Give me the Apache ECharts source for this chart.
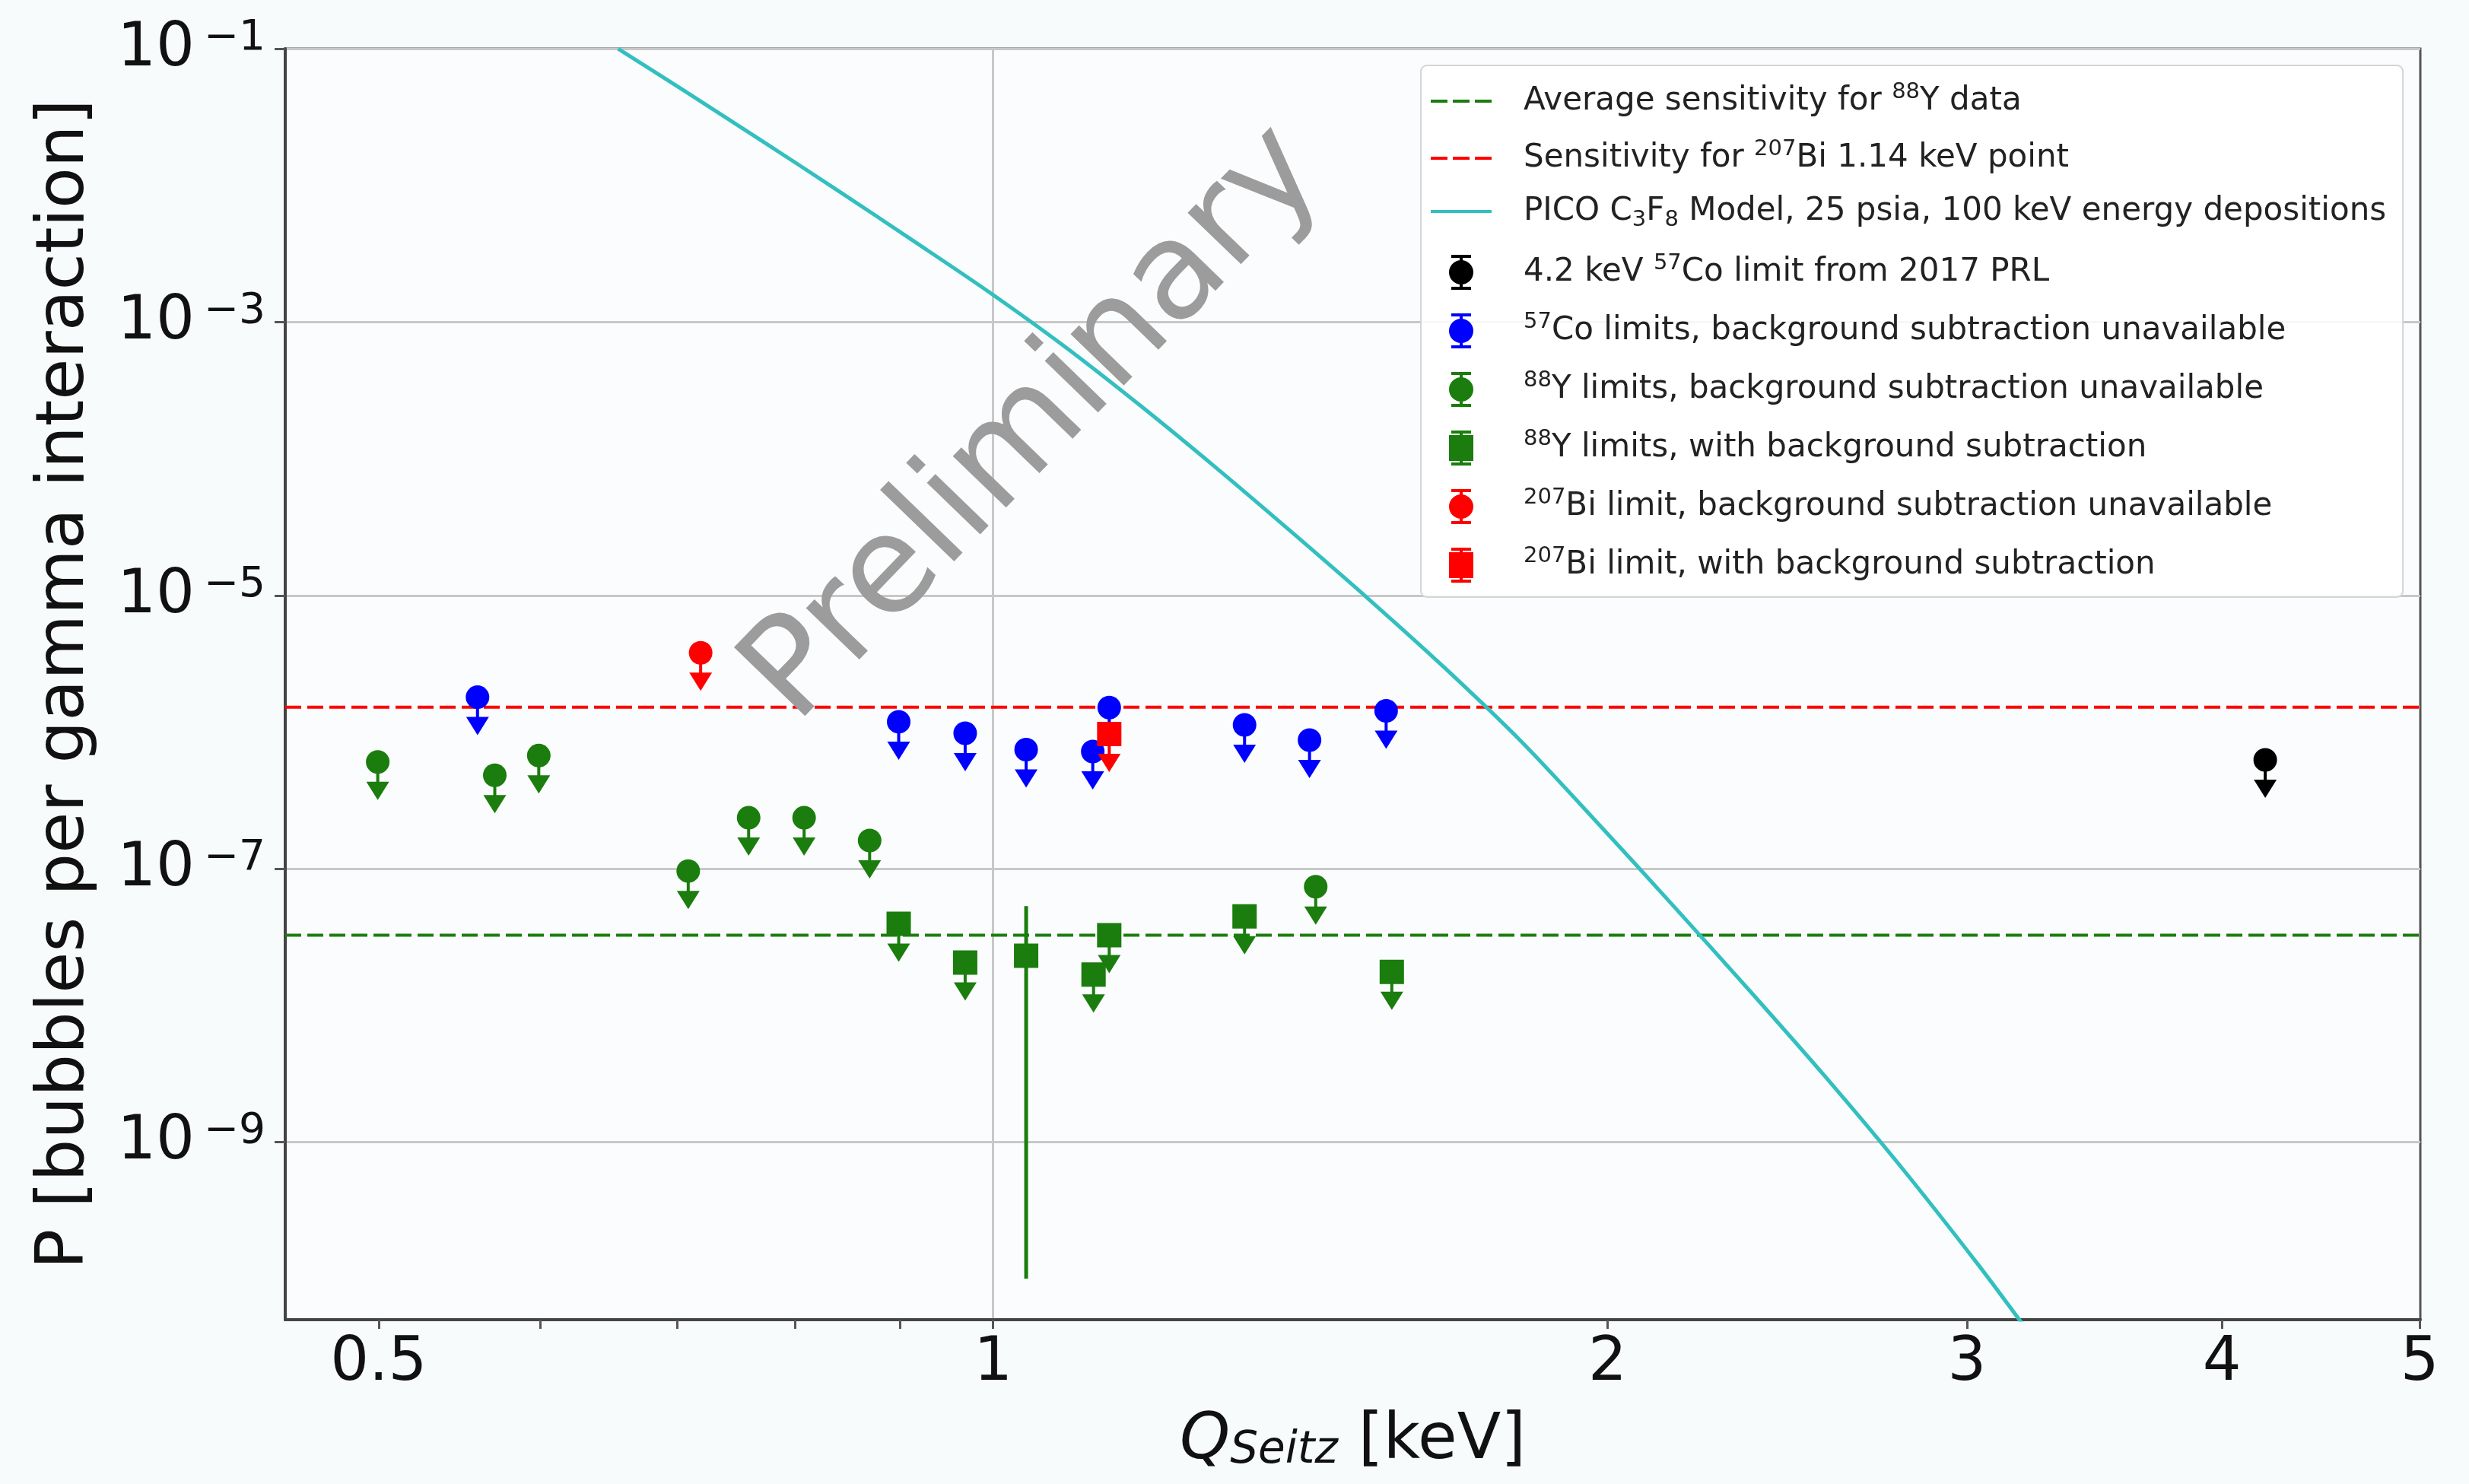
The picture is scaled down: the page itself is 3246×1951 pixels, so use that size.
<!DOCTYPE html>
<html>
<head>
<meta charset="utf-8">
<script src="https://cdn.jsdelivr.net/npm/echarts@6/dist/echarts.min.js"></script>
<style>
html,body{margin:0;padding:0;background:#f8fbfc;}
#chart{width:3246px;height:1951px;}
</style>
</head>
<body>
<div id="chart"></div>
<script>
// ---------------- data ----------------
const xTickValues = [0.5, 0.6, 0.7, 0.8, 0.9, 1, 2, 3, 4, 5];
const xLabelValues = [0.5, 1, 2, 3, 4, 5];
const xGridValues = [1];
const yLabelValues = [1e-9, 1e-7, 1e-5, 1e-3, 1e-1];

// PICO C3F8 model curve
const picoQ = [0.6551, 0.7059, 0.7691, 0.8381, 0.9131, 0.9949, 1.0840, 1.1811, 1.2869, 1.4021, 1.5278, 1.6646, 1.8137, 1.9762, 2.1532, 2.3461, 2.5563, 2.7852, 3.0347, 3.1950];
const picoP = [1.0e-1, 4.926e-2, 2.156e-2, 9.319e-3, 3.971e-3, 1.670e-3, 6.633e-4, 2.439e-4, 8.519e-5, 2.863e-5, 9.379e-6, 2.945e-6, 8.595e-7, 2.190e-7, 5.389e-8, 1.297e-8, 3.021e-9, 6.566e-10, 1.296e-10, 4.63e-11];

// horizontal sensitivity lines
const sensQRange = [0.45, 5.003];
const y88AvgSens = 3.26e-8;
const bi207Sens = 1.52e-6;

// black: 2017 PRL
const prlQ = [4.20];
const prlP = [6.26e-7];

// blue: 57Co limits
const co57Q = [0.559, 0.899, 0.969, 1.038, 1.119, 1.140, 1.328, 1.429, 1.558];
const co57P = [1.80e-6, 1.19e-6, 9.8e-7, 7.45e-7, 7.21e-7, 1.51e-6, 1.13e-6, 8.73e-7, 1.43e-6];

// green circles: 88Y, no background subtraction
const y88Q = [0.4995, 0.570, 0.599, 0.709, 0.759, 0.808, 0.870, 1.439];
const y88P = [6.05e-7, 4.83e-7, 6.73e-7, 9.62e-8, 2.36e-7, 2.36e-7, 1.61e-7, 7.39e-8];

// green squares: 88Y with background subtraction
const y88bQ = [0.899, 0.969, 1.038, 1.120, 1.140, 1.328, 1.568];
const y88bP = [3.96e-8, 2.06e-8, 2.31e-8, 1.68e-8, 3.26e-8, 4.48e-8, 1.76e-8];
const y88bIsLimit = [1, 1, 0, 1, 1, 1, 1];
const y88bErrLow = [null, null, 1.0e-10, null, null, null, null];
const y88bErrHigh = [null, null, 5.33e-8, null, null, null, null];

// red: 207Bi
const bi207Q = [0.719];
const bi207P = [3.80e-6];
const bi207bQ = [1.140];
const bi207bP = [9.69e-7];

// ---------------- names ----------------
const N = {
  avg: 'Average sensitivity for 88Y data',
  bis: 'Sensitivity for 207Bi 1.14 keV point',
  pico: 'PICO C3F8 Model, 25 psia, 100 keV energy depositions',
  prl: '4.2 keV 57Co limit from 2017 PRL',
  co: '57Co limits, background subtraction unavailable',
  y: '88Y limits, background subtraction unavailable',
  yb: '88Y limits, with background subtraction',
  bi: '207Bi limit, background subtraction unavailable',
  bib: '207Bi limit, with background subtraction'
};
const legendRich = {};
legendRich[N.avg] = '{t|Average sensitivity for }{sup|88}{t|Y data}';
legendRich[N.bis] = '{t|Sensitivity for }{sup|207}{t|Bi 1.14 keV point}';
legendRich[N.pico] = '{t|PICO C}{sub|3}{t|F}{sub|8}{t| Model, 25 psia, 100 keV energy depositions}';
legendRich[N.prl] = '{t|4.2 keV }{sup|57}{t|Co limit from 2017 PRL}';
legendRich[N.co] = '{sup|57}{t|Co limits, background subtraction unavailable}';
legendRich[N.y] = '{sup|88}{t|Y limits, background subtraction unavailable}';
legendRich[N.yb] = '{sup|88}{t|Y limits, with background subtraction}';
legendRich[N.bi] = '{sup|207}{t|Bi limit, background subtraction unavailable}';
legendRich[N.bib] = '{sup|207}{t|Bi limit, with background subtraction}';

const C = { blue: '#0000ff', green: '#1a7d0d', red: '#ff0000', black: '#000000', cyan: '#33bfbf' };
const FONT = 'DejaVu Sans';

function zip(qs, ps) { return qs.map((q, i) => [q, ps[i]]); }
function markerData(qs, ps, lims, lo, hi) {
  return qs.map((q, i) => {
    const isLim = lims ? lims[i] : 1;
    return [q, ps[i], isLim, isLim ? ps[i] : lo[i], isLim ? ps[i] : hi[i]];
  });
}

function limitRenderer(shape) {
  return function (params, api) {
    const color = api.visual('color');
    const q = api.value(0), p = api.value(1), isLim = api.value(2);
    const c = api.coord([q, p]);
    const kids = [];
    if (isLim) {
      kids.push({ type: 'rect', shape: { x: c[0] - 2, y: c[1], width: 4, height: 30 }, style: { fill: color } });
      kids.push({ type: 'polygon', shape: { points: [[c[0] - 15, c[1] + 26], [c[0] + 15, c[1] + 26], [c[0], c[1] + 50]] }, style: { fill: color } });
    } else {
      const lo = api.coord([q, api.value(3)]);
      const hi = api.coord([q, api.value(4)]);
      kids.push({ type: 'rect', shape: { x: c[0] - 2.5, y: hi[1], width: 5, height: lo[1] - hi[1] }, style: { fill: color } });
    }
    if (shape === 'circle') {
      kids.push({ type: 'circle', shape: { cx: c[0], cy: c[1], r: 15.5 }, style: { fill: color } });
    } else {
      kids.push({ type: 'rect', shape: { x: c[0] - 16, y: c[1] - 16, width: 32, height: 32 }, style: { fill: color } });
    }
    return { type: 'group', children: kids };
  };
}

function markerSeries(name, color, shape, data, z) {
  return {
    name: name, type: 'custom', xAxisIndex: 0, yAxisIndex: 0,
    itemStyle: { color: color },
    renderItem: limitRenderer(shape),
    encode: { x: 0, y: 1 },
    data: data, z: z, clip: true
  };
}

const iconCircleErr = 'path://M3,0H29V4H3Z M14,0H18V46H14Z M3,42H29V46H3Z M0,23A16,16,0,1,1,32,23A16,16,0,1,1,0,23Z';
const iconSquareErr = 'path://M3,0H29V4H3Z M14,0H18V46H14Z M3,42H29V46H3Z M0,6H32V40H0Z';
const iconDashed = 'path://M0,0H22V4H0Z M29,0H51V4H29Z M58,0H80V4H58Z';
const iconSolid = 'path://M0,0H80V4H0Z';

const chart = echarts.init(document.getElementById('chart'), null, { renderer: 'canvas' });

const option = {
  backgroundColor: '#f8fbfc',
  animation: false,
  textStyle: { fontFamily: FONT },
  grid: { left: 375, right: 64, top: 64, bottom: 216, show: true, borderColor: '#555', borderWidth: 3, backgroundColor: '#fbfcfd' },
  xAxis: [
    {
      type: 'log', logBase: 10, min: 0.45, max: 5.003,
      name: '{qi|Q}{si|Seitz}{n| [keV]}',
      nameLocation: 'middle', nameGap: 118,
      nameTextStyle: {
        rich: {
          qi: { fontFamily: FONT, fontStyle: 'italic', fontSize: 84, lineHeight: 84, verticalAlign: 'top', color: '#111' },
          si: { fontFamily: FONT, fontStyle: 'italic', fontSize: 58, lineHeight: 40, verticalAlign: 'bottom', color: '#111' },
          n: { fontFamily: FONT, fontSize: 84, lineHeight: 84, verticalAlign: 'top', color: '#111' }
        }
      },
      axisLine: { show: true, lineStyle: { color: '#444', width: 4 } },
      axisTick: { show: true, customValues: xTickValues, length: 12, lineStyle: { color: '#555', width: 3 } },
      axisLabel: {
        customValues: xLabelValues, margin: 18, fontSize: 80, fontFamily: FONT, color: '#111',
        formatter: function (v) { return String(Math.round(v * 10) / 10); }
      },
      splitLine: { show: false }
    },
    {
      type: 'log', logBase: 10, min: 0.45, max: 5.003, position: 'bottom',
      axisLine: { show: false },
      axisTick: { show: false, customValues: xGridValues },
      axisLabel: { show: false },
      splitLine: { show: true, lineStyle: { color: '#c8c8c8', width: 3 } }
    }
  ],
  yAxis: {
    type: 'log', logBase: 10, min: 5.012e-11, max: 0.1002,
    name: 'P [bubbles per gamma interaction]',
    nameLocation: 'middle', nameGap: 245,
    nameTextStyle: { fontFamily: FONT, fontSize: 88, color: '#111' },
    axisLine: { show: true, lineStyle: { color: '#444', width: 4 } },
    axisTick: { show: true, customValues: yLabelValues, length: 14, lineStyle: { color: '#555', width: 3 } },
    axisLabel: {
      customValues: yLabelValues, margin: 26,
      formatter: function (v) {
        return '{b|10}{s|\u2212' + Math.abs(Math.round(Math.log10(v))) + '}';
      },
      rich: {
        b: { fontFamily: FONT, fontSize: 80, lineHeight: 82, verticalAlign: 'bottom', color: '#111' },
        s: { fontFamily: FONT, fontSize: 55, lineHeight: 40, verticalAlign: 'top', color: '#111', padding: [0, 0, 0, 12] }
      }
    },
    splitLine: { show: true, lineStyle: { color: '#c8c8c8', width: 3 } }
  },
  legend: {
    orient: 'vertical', left: 1868, top: 86,
    padding: [21, 22, 19, 13],
    itemGap: 28, itemWidth: 80, itemHeight: 46,
    backgroundColor: 'rgba(255,255,255,0.85)', borderColor: '#d4d4d4', borderWidth: 2, borderRadius: 8,
    selectedMode: false,
    data: [
      { name: N.avg, icon: iconDashed, itemStyle: { color: C.green } },
      { name: N.bis, icon: iconDashed, itemStyle: { color: C.red } },
      { name: N.pico, icon: iconSolid, itemStyle: { color: C.cyan } },
      { name: N.prl, icon: iconCircleErr },
      { name: N.co, icon: iconCircleErr },
      { name: N.y, icon: iconCircleErr },
      { name: N.yb, icon: iconSquareErr },
      { name: N.bi, icon: iconCircleErr },
      { name: N.bib, icon: iconSquareErr }
    ],
    formatter: function (name) { return '{gap| }' + legendRich[name]; },
    textStyle: {
      fontFamily: FONT, color: '#222',
      rich: {
        gap: { width: 37, lineHeight: 52, fontSize: 10 },
        t: { fontFamily: FONT, fontSize: 42, lineHeight: 52, color: '#222' },
        sup: { fontFamily: FONT, fontSize: 29, lineHeight: 28, verticalAlign: 'top', color: '#222' },
        sub: { fontFamily: FONT, fontSize: 29, lineHeight: 36, verticalAlign: 'bottom', color: '#222' }
      }
    }
  },
  graphic: [
    {
      type: 'text', x: 1362, y: 560, rotation: 46 * Math.PI / 180, z: 100,
      style: { text: 'Preliminary', font: '178px "DejaVu Sans"', fill: '#9c9c9c', align: 'center', verticalAlign: 'middle' }
    }
  ],
  series: [
    {
      name: N.avg, type: 'line', symbol: 'none', showSymbol: false, z: 3,
      lineStyle: { color: C.green, width: 4, type: [21, 8] }, itemStyle: { color: C.green },
      data: sensQRange.map(q => [q, y88AvgSens])
    },
    {
      name: N.bis, type: 'line', symbol: 'none', showSymbol: false, z: 3,
      lineStyle: { color: C.red, width: 4, type: [21, 8] }, itemStyle: { color: C.red },
      data: sensQRange.map(q => [q, bi207Sens])
    },
    {
      name: N.pico, type: 'line', symbol: 'none', showSymbol: false, z: 3, clip: true,
      smooth: 0.3,
      lineStyle: { color: C.cyan, width: 5 }, itemStyle: { color: C.cyan },
      data: zip(picoQ, picoP)
    },
    markerSeries(N.prl, C.black, 'circle', markerData(prlQ, prlP), 4),
    markerSeries(N.co, C.blue, 'circle', markerData(co57Q, co57P), 5),
    markerSeries(N.y, C.green, 'circle', markerData(y88Q, y88P), 6),
    markerSeries(N.yb, C.green, 'square', markerData(y88bQ, y88bP, y88bIsLimit, y88bErrLow, y88bErrHigh), 7),
    markerSeries(N.bi, C.red, 'circle', markerData(bi207Q, bi207P), 8),
    markerSeries(N.bib, C.red, 'square', markerData(bi207bQ, bi207bP), 9)
  ]
};
chart.setOption(option);
</script>
</body>
</html>
